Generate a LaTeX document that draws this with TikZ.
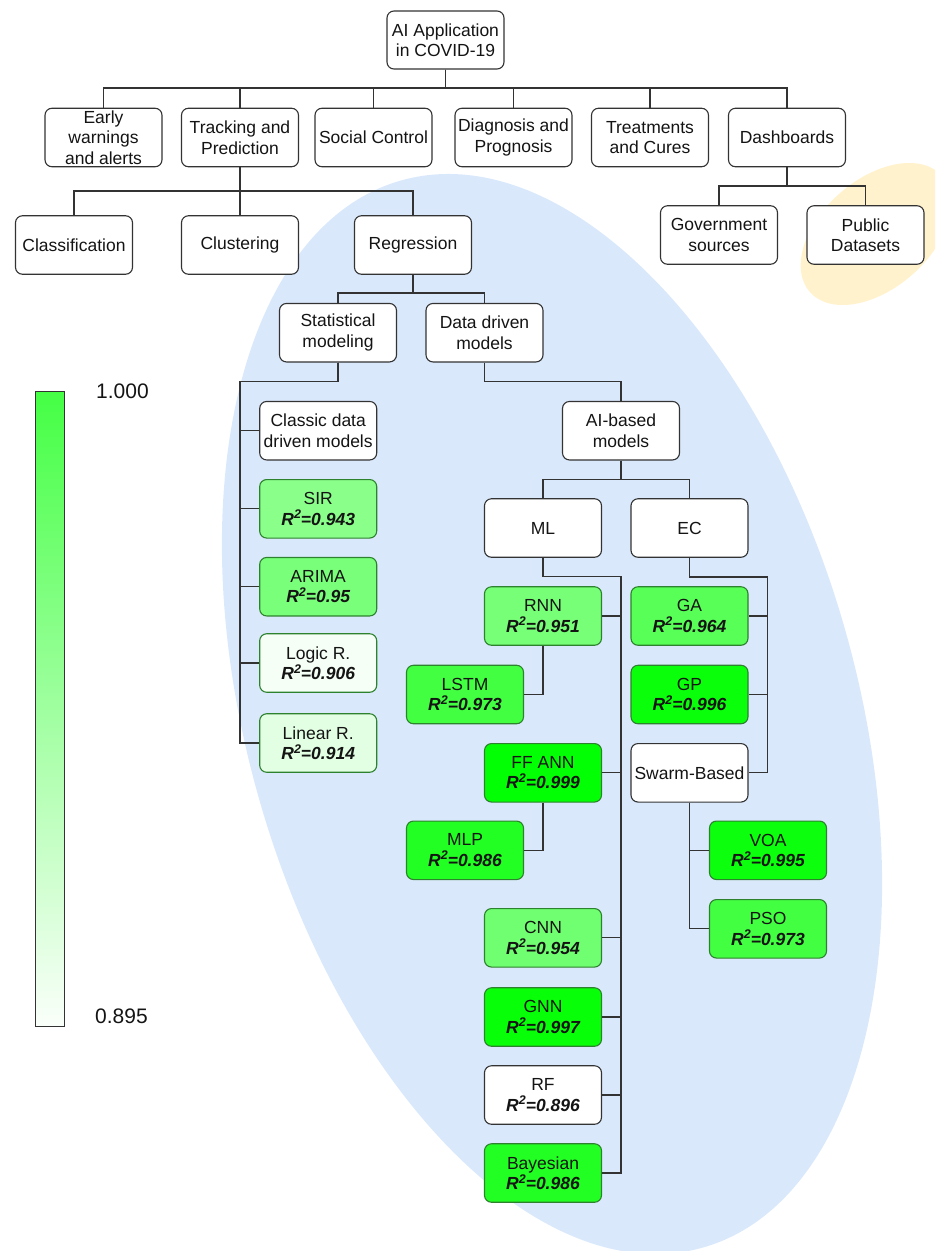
\documentclass[tikz,border=0pt]{standalone}
\usepackage{fontspec}
\setmainfont{Liberation Sans}
\definecolor{gborder}{RGB}{45,130,45}
\definecolor{lineC}{RGB}{51,51,51}
\definecolor{blueF}{HTML}{DAE8FC}
\definecolor{yellowF}{HTML}{FFF2CC}
\definecolor{txt}{RGB}{20,20,20}
\newcommand{\rsq}[1]{{\bfseries\itshape R\raisebox{6.5pt}{\fontsize{12.5}{12.5}\selectfont 2}=#1}}
\tikzset{
  box/.style={draw=lineC, line width=1.1pt, rounded corners=7pt, fill=white,
    minimum width=117pt, minimum height=58.5pt, inner sep=0pt, align=center,
    text=txt, font=\fontsize{17.5}{20.5}\selectfont},
  gbox/.style={box, draw=gborder, fill=green!#1!white},
  conn/.style={draw=lineC, line width=1.2pt},
  cblabel/.style={anchor=west, inner sep=0pt, text=txt, font=\fontsize{21}{24}\selectfont},
}
\begin{document}
\begin{tikzpicture}[x=1pt,y=1pt]
\useasboundingbox (0,0) rectangle (935,-1251);
\clip (0,0) rectangle (935,-1251);
% background ellipses
\fill[blueF, rotate around={15.8:(552,-714)}] (552,-714) ellipse [x radius=305, y radius=554.5];
\fill[yellowF, rotate around={-48.8:(876,-234)}] (876,-234) ellipse [x radius=54.5, y radius=88];

% colour bar
\node[draw=lineC, line width=1pt, minimum width=29.4pt, minimum height=635pt, inner sep=0pt,
  top color=green!73!white, bottom color=green!2!white] (cbar) at (49.7,-709.2) {};
\node[cblabel] (cbtop) at (96,-391.7) {1.000};
\node[cblabel] (cbbot) at (95,-1016.7) {0.895};

% level 0 and 1
\node[box, minimum height=58pt] (root) at (445.5,-40) {AI Application\\in COVID-19};
\node[box] (early) at (103.5,-137.5) {Early\\warnings\\and alerts};
\node[box] (track) at (240,-137.5) {Tracking and\\Prediction};
\node[box] (social) at (373.5,-137.5) {Social Control};
\node[box] (diag) at (513.5,-137.5) {Diagnosis and\\Prognosis};
\node[box] (treat) at (650,-137.5) {Treatments\\and Cures};
\node[box] (dash) at (787,-137.5) {Dashboards};

% level 2
\node[box] (class) at (74,-245) {Classification};
\node[box] (clust) at (240,-245) {Clustering};
\node[box] (regr) at (413,-245) {Regression};
\node[box] (gov) at (719,-235) {Government\\sources};
\node[box] (pub) at (865.5,-235) {Public\\Datasets};

% regression branch
\node[box] (stat) at (338,-332.7) {Statistical\\modeling};
\node[box] (data) at (484.5,-332.7) {Data driven\\models};
\node[box] (classic) at (318.2,-430.7) {Classic data\\driven models};
\node[gbox=45.7] (sir) at (318.2,-508.8) {SIR\\\rsq{0.943}};
\node[gbox=52.4] (arima) at (318.2,-586.7) {ARIMA\\\rsq{0.95}};
\node[gbox=4] (logic) at (318.2,-663) {Logic R.\\\rsq{0.906}};
\node[gbox=11] (linear) at (318.2,-743) {Linear R.\\\rsq{0.914}};

\node[box] (aib) at (621,-430.7) {AI-based\\models};
\node[box] (ml) at (543,-528) {ML};
\node[box] (ec) at (689.5,-528) {EC};

\node[gbox=53.3] (rnn) at (543,-616) {RNN\\\rsq{0.951}};
\node[gbox=74.3] (lstm) at (465,-694.5) {LSTM\\\rsq{0.973}};
\node[gbox=99] (ffann) at (543,-772.8) {FF ANN\\\rsq{0.999}};
\node[gbox=86.7] (mlp) at (465,-850.3) {MLP\\\rsq{0.986}};
\node[gbox=56.2] (cnn) at (543,-937.8) {CNN\\\rsq{0.954}};
\node[gbox=97.1] (gnn) at (543,-1017) {GNN\\\rsq{0.997}};
\node[box] (rf) at (543,-1095) {RF\\\rsq{0.896}};
\node[gbox=86.7] (bayes) at (543,-1173) {Bayesian\\\rsq{0.986}};

\node[gbox=65.7] (ga) at (689.5,-616) {GA\\\rsq{0.964}};
\node[gbox=96.2] (gp) at (689.5,-694.5) {GP\\\rsq{0.996}};
\node[box] (swarm) at (689.5,-772.8) {Swarm-Based};
\node[gbox=95.2] (voa) at (768,-850.3) {VOA\\\rsq{0.995}};
\node[gbox=74.3] (pso) at (768,-928.8) {PSO\\\rsq{0.973}};

% bus coordinates
\coordinate (b0) at (0,-88);
\coordinate (b1) at (0,-191);
\coordinate (bd) at (0,-186);
\coordinate (br) at (0,-293);
\coordinate (sx) at (240,-381.3);
\coordinate (mlt) at (621,-576.7);
\coordinate (ect) at (767.7,-577);

% connectors
\foreach \c in {early,track,social,diag,treat,dash}
  \draw[conn] (root.south) -- (root.south |- b0) -| (\c.north);
\foreach \c in {class,clust,regr}
  \draw[conn] (track.south) -- (track.south |- b1) -| (\c.north);
\foreach \c in {gov,pub}
  \draw[conn] (dash.south) -- (dash.south |- bd) -| (\c.north);
\foreach \c in {stat,data}
  \draw[conn] (regr.south) -- (regr.south |- br) -| (\c.north);
\foreach \c in {classic,sir,arima,logic,linear}
  \draw[conn] (stat.south) |- (sx) |- (\c.west);
\draw[conn] (data.south) -- ++(0,-19.3) -| (aib.north);
\foreach \c in {ml,ec}
  \draw[conn] (aib.south) -- ++(0,-19.3) -| (\c.north);
\foreach \c in {rnn,ffann,cnn,gnn,rf,bayes}
  \draw[conn] (ml.south) |- (mlt) |- (\c.east);
\draw[conn] (rnn.south) |- (lstm.east);
\draw[conn] (ffann.south) |- (mlp.east);
\foreach \c in {ga,gp,swarm}
  \draw[conn] (ec.south) |- (ect) |- (\c.east);
\foreach \c in {voa,pso}
  \draw[conn] (swarm.south) |- (\c.west);
\end{tikzpicture}
\end{document}
